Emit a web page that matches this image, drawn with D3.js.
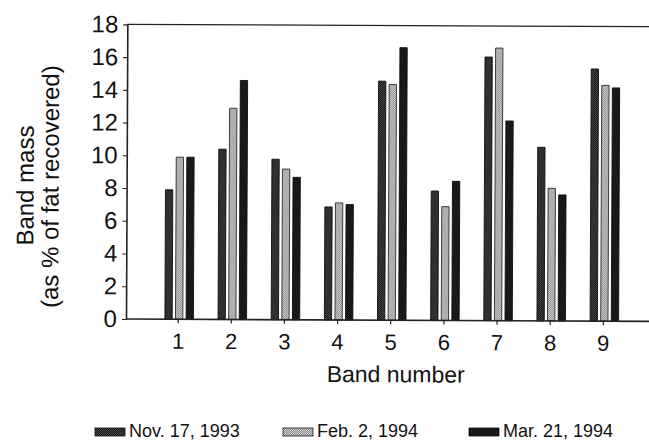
<!DOCTYPE html>
<html>
<head>
<meta charset="utf-8">
<script src="https://cdn.jsdelivr.net/npm/d3@7"></script>
<style>
  body { margin: 0; background: #fff; }
  svg { display: block; font-family: "Liberation Sans", Arial, sans-serif; }
</style>
</head>
<body>
<svg id="chart"></svg>
<script>
const width = 649;
const height = 440;

// data
const bands = [1, 2, 3, 4, 5, 6, 7, 8, 9];
const seriesNames = ['Nov. 17, 1993', 'Feb. 2, 1994', 'Mar. 21, 1994'];
const nov17 = [7.9, 10.4, 9.8, 6.9, 14.6, 7.9, 16.1, 10.6, 15.4];
const feb2 = [9.9, 12.9, 9.2, 7.15, 14.4, 6.95, 16.65, 8.1, 14.4];
const mar21 = [9.9, 14.6, 8.7, 7.05, 16.65, 8.5, 12.2, 7.7, 14.25];
const yTicks = [0, 2, 4, 6, 8, 10, 12, 14, 16, 18];

const series = [nov17, feb2, mar21];
const fills = ['url(#pat0)', 'url(#pat1)', 'url(#pat2)'];

const svg = d3.select('#chart').attr('width', width).attr('height', height);

// little dither patterns, the scan has a texture on each bar
const defs = svg.append('defs');
const pats = [['#141414', '#4c4c4c'], ['#8a8a8a', '#d4d4d4'], ['#0c0c0c', '#262626']];
pats.forEach((c, i) => {
  const p = defs.append('pattern').attr('id', 'pat' + i)
    .attr('width', 2).attr('height', 2).attr('patternUnits', 'userSpaceOnUse');
  p.append('rect').attr('width', 2).attr('height', 2).attr('fill', c[0]);
  p.append('rect').attr('width', 1).attr('height', 1).attr('fill', c[1]);
  p.append('rect').attr('x', 1).attr('y', 1).attr('width', 1).attr('height', 1).attr('fill', c[1]);
});

// the scan is tilted a touch
const g = svg.append('g').attr('transform', 'rotate(0.26,126,319)');

const x = d3.scaleLinear().domain([0, 10]).range([124.5, 656]);
const y = d3.scaleLinear().domain([0, 18]).range([319, 24.3]);

const barW = 7.3;
const pitch = 10.6;

series.forEach((vals, s) => {
  g.append('g').selectAll('rect').data(bands).enter().append('rect')
    .attr('x', (d, i) => x(d) + 1.5 + (s - 1) * pitch - barW / 2)
    .attr('y', (d, i) => y(vals[i]))
    .attr('width', barW)
    .attr('height', (d, i) => y(0) - y(vals[i]))
    .attr('fill', fills[s])
    .attr('stroke', s === 1 ? '#2a2a2a' : '#0c0c0c')
    .attr('stroke-width', 0.9);
});

// frame lines
g.append('line').attr('x1', 126).attr('x2', 649).attr('y1', y(18)).attr('y2', y(18))
  .attr('stroke', '#222').attr('stroke-width', 1.3);
g.append('line').attr('x1', 126).attr('x2', 649).attr('y1', y(0)).attr('y2', y(0))
  .attr('stroke', '#222').attr('stroke-width', 1.6);

const yAxis = d3.axisLeft(y).tickValues(yTicks).tickSize(4).tickPadding(5).tickSizeOuter(0);
const yg = g.append('g').attr('transform', 'translate(126,0)').call(yAxis);
yg.select('.domain').attr('stroke', '#222').attr('stroke-width', 1.6);
yg.selectAll('.tick line').attr('stroke', '#222').attr('stroke-width', 1.2);
yg.selectAll('.tick text').attr('font-size', 24).attr('fill', '#111')
  .attr('font-family', '"Liberation Sans", Arial, sans-serif');

const xAxis = d3.axisBottom(x).tickValues(bands).tickSize(4).tickPadding(10).tickSizeOuter(0);
const xg = g.append('g').attr('transform', `translate(0,${y(0)})`).call(xAxis);
xg.select('.domain').remove();
xg.selectAll('.tick line').attr('stroke', '#222').attr('stroke-width', 1.2);
xg.selectAll('.tick text').attr('font-size', 22).attr('fill', '#111')
  .attr('font-family', '"Liberation Sans", Arial, sans-serif');

// titles
g.append('text').attr('x', 396).attr('y', 381).attr('text-anchor', 'middle')
  .attr('font-size', 23).attr('fill', '#111').text('Band number');

g.append('text').attr('transform', 'translate(33,186) rotate(-90)').attr('text-anchor', 'middle')
  .attr('font-size', 24).attr('fill', '#111').text('Band mass');
g.append('text').attr('transform', 'translate(58,187) rotate(-90)').attr('text-anchor', 'middle')
  .attr('font-size', 24).attr('fill', '#111').text('(as % of fat recovered)');

// legend
const legX = [95, 283, 469];
const leg = svg.append('g');
seriesNames.forEach((name, i) => {
  leg.append('rect').attr('x', legX[i]).attr('y', 428).attr('width', 30).attr('height', 8)
    .attr('fill', fills[i]).attr('stroke', '#111').attr('stroke-width', 0.8);
  leg.append('text').attr('x', legX[i] + 34).attr('y', 437)
    .attr('font-size', 18).attr('fill', '#111').text(name);
});
</script>
</body>
</html>
